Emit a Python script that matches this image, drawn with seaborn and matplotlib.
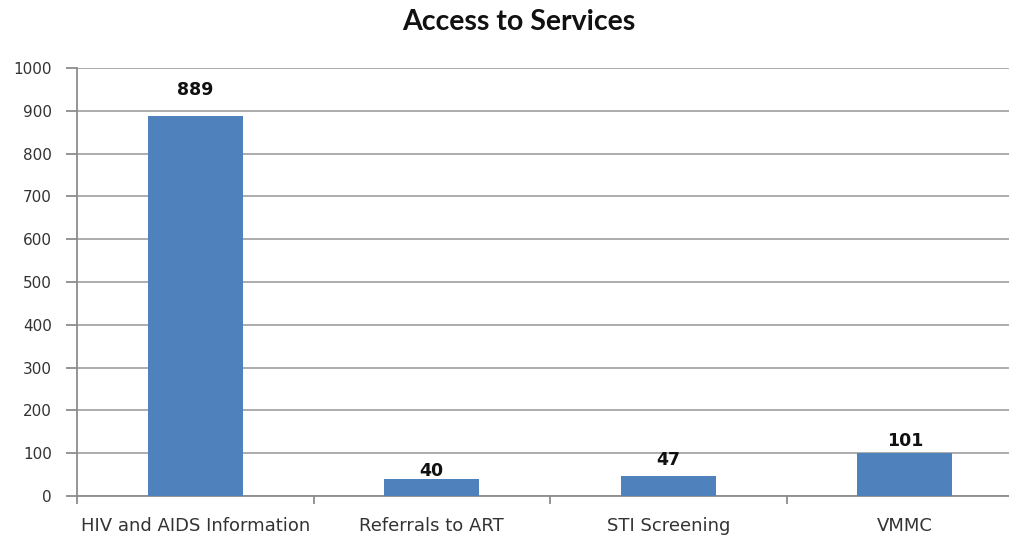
import matplotlib
matplotlib.use("Agg")
import matplotlib.pyplot as plt
import seaborn as sns
import pandas as pd

categories = ["HIV and AIDS Information", "Referrals to ART", "STI Screening", "VMMC"]
values = [889, 40, 47, 101]
yticks = [0, 100, 200, 300, 400, 500, 600, 700, 800, 900, 1000]

sns.set_theme(style="white")
plt.rcParams['font.family'] = ['DejaVu Sans']

df = pd.DataFrame({"category": categories, "value": values})

W, H = 1009, 537
fig = plt.figure(figsize=(W / 100, H / 100), dpi=100)
left = 77 / W
bottom = (H - 496) / H
ax = fig.add_axes([left, bottom, 946 / W, 428 / H])

sns.barplot(data=df, x="category", y="value", color="#4F81BD", width=0.4,
            saturation=1, ax=ax, zorder=3, edgecolor="none", linewidth=0)

ax.set_xlim(-0.5, len(categories) - 0.5)
ax.set_ylim(0, 1000)
ax.set_yticks(yticks)
ax.set_yticklabels([str(t) for t in yticks], fontsize=11, color="#333333")
ax.yaxis.grid(True, color="#A6A6A6", linewidth=1.3, zorder=0)
ax.xaxis.grid(False)

# x ticks at category boundaries
ax.set_xticks([i - 0.5 for i in range(len(categories) + 1)], minor=False)
ax.set_xticklabels([""] * (len(categories) + 1))
ax.set_xticks(range(len(categories)), minor=True)
ax.set_xticklabels(categories, minor=True, fontsize=13, color="#333333")
ax.tick_params(axis="x", which="minor", length=0, pad=15)
ax.tick_params(axis="x", which="major", length=6, width=1.3, color="#8C8C8C", direction="out", bottom=True)
ax.tick_params(axis="y", length=8, width=1.3, color="#8C8C8C", direction="out", left=True, pad=10)

for s in ["top", "right"]:
    ax.spines[s].set_visible(False)
for s in ["left", "bottom"]:
    ax.spines[s].set_color("#8C8C8C")
    ax.spines[s].set_linewidth(1.3)

ax.set_xlabel("")
ax.set_ylabel("")

# label offsets (points) as placed in the original
label_offsets = [12, -1, 5, 2]
for i, v in enumerate(values):
    ax.annotate(str(v), xy=(i, v), xytext=(0, label_offsets[i]), textcoords="offset points",
                ha="center", va="bottom", fontsize=12.5, fontweight="bold", color="#111111",
                zorder=5)

fig.text(519 / W, 1 - 22 / H, "Access to Services", ha="center", va="center",
         fontsize=20.5, fontweight="bold", family=["Lato", "DejaVu Sans"], color="#111111")

fig.savefig("out.png", dpi=100)
